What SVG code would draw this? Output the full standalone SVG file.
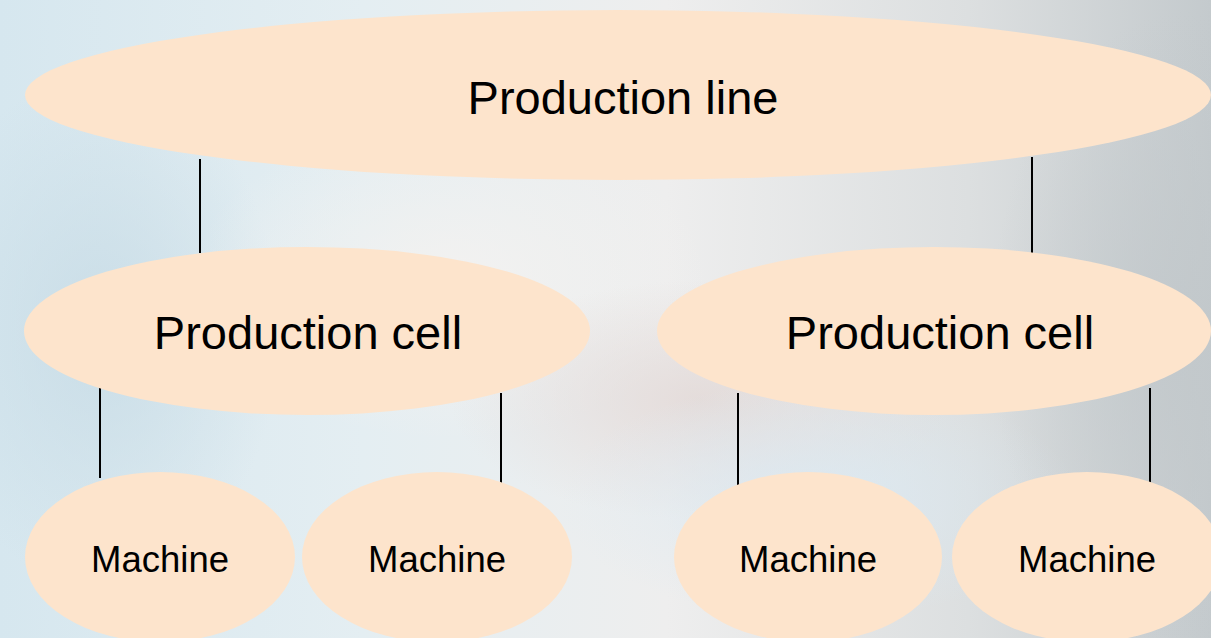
<svg xmlns="http://www.w3.org/2000/svg" width="1211" height="638" viewBox="0 0 1211 638">
<defs>
<linearGradient id="bg" x1="0" y1="0" x2="1" y2="0">
<stop offset="0" stop-color="#d6e7ef"/>
<stop offset="0.3" stop-color="#e4eef2"/>
<stop offset="0.55" stop-color="#eeeeee"/>
<stop offset="0.8" stop-color="#dcdfe0"/>
<stop offset="1" stop-color="#c4cacd"/>
</linearGradient>
<radialGradient id="b1" cx="0.5" cy="0.5" r="0.5">
<stop offset="0" stop-color="#c8dce6" stop-opacity="0.9"/>
<stop offset="1" stop-color="#c8dce6" stop-opacity="0"/>
</radialGradient>
<radialGradient id="b2" cx="0.5" cy="0.5" r="0.5">
<stop offset="0" stop-color="#f4f2f0" stop-opacity="0.9"/>
<stop offset="1" stop-color="#f4f2f0" stop-opacity="0"/>
</radialGradient>
<radialGradient id="b3" cx="0.5" cy="0.5" r="0.5">
<stop offset="0" stop-color="#e2d8d6" stop-opacity="0.8"/>
<stop offset="1" stop-color="#e2d8d6" stop-opacity="0"/>
</radialGradient>
<radialGradient id="b4" cx="0.5" cy="0.5" r="0.5">
<stop offset="0" stop-color="#dbe9f2" stop-opacity="0.9"/>
<stop offset="1" stop-color="#dbe9f2" stop-opacity="0"/>
</radialGradient>
<radialGradient id="b5" cx="0.5" cy="0.5" r="0.5">
<stop offset="0" stop-color="#c2c8cb" stop-opacity="0.9"/>
<stop offset="1" stop-color="#c2c8cb" stop-opacity="0"/>
</radialGradient>
</defs>
<style>
.node{fill:#fde4cc;}
.lbl{font-family:"Liberation Sans",Arial,sans-serif;fill:#000;text-anchor:middle;}
.big{font-size:47px;}
.small{font-size:36.5px;}
.conn line{stroke:#000;stroke-width:2;}
</style>
<rect x="0" y="0" width="1211" height="638" fill="url(#bg)"/>
<ellipse cx="100" cy="330" rx="180" ry="260" fill="url(#b1)"/>
<ellipse cx="450" cy="280" rx="260" ry="160" fill="url(#b2)"/>
<ellipse cx="700" cy="400" rx="250" ry="120" fill="url(#b3)"/>
<ellipse cx="820" cy="500" rx="260" ry="120" fill="url(#b4)"/>
<ellipse cx="1190" cy="330" rx="200" ry="320" fill="url(#b5)"/>
<g id="connectors" class="conn">
<line x1="200" y1="159" x2="200" y2="253"/>
<line x1="1032" y1="157" x2="1032" y2="253"/>
<line x1="100" y1="383" x2="100" y2="478"/>
<line x1="501" y1="393" x2="501" y2="487"/>
<line x1="738" y1="393" x2="738" y2="487"/>
<line x1="1150" y1="388" x2="1150" y2="483"/>
</g>
<g id="node-line">
<ellipse class="node" cx="618" cy="95" rx="593" ry="85"/>
<text class="lbl big" x="623" y="114">Production line</text>
</g>
<g id="node-cell1">
<ellipse class="node" cx="307" cy="331" rx="283" ry="84"/>
<text class="lbl big" x="308" y="349">Production cell</text>
</g>
<g id="node-cell2">
<ellipse class="node" cx="934" cy="331" rx="277" ry="84"/>
<text class="lbl big" x="940" y="349">Production cell</text>
</g>
<g id="node-m1">
<ellipse class="node" cx="160" cy="557" rx="135" ry="85"/>
<text class="lbl small" x="160" y="572">Machine</text>
</g>
<g id="node-m2">
<ellipse class="node" cx="437" cy="557" rx="135" ry="85"/>
<text class="lbl small" x="437" y="572">Machine</text>
</g>
<g id="node-m3">
<ellipse class="node" cx="808" cy="557" rx="134" ry="85"/>
<text class="lbl small" x="808" y="572">Machine</text>
</g>
<g id="node-m4">
<ellipse class="node" cx="1087" cy="557" rx="135" ry="85"/>
<text class="lbl small" x="1087" y="572">Machine</text>
</g>
</svg>
